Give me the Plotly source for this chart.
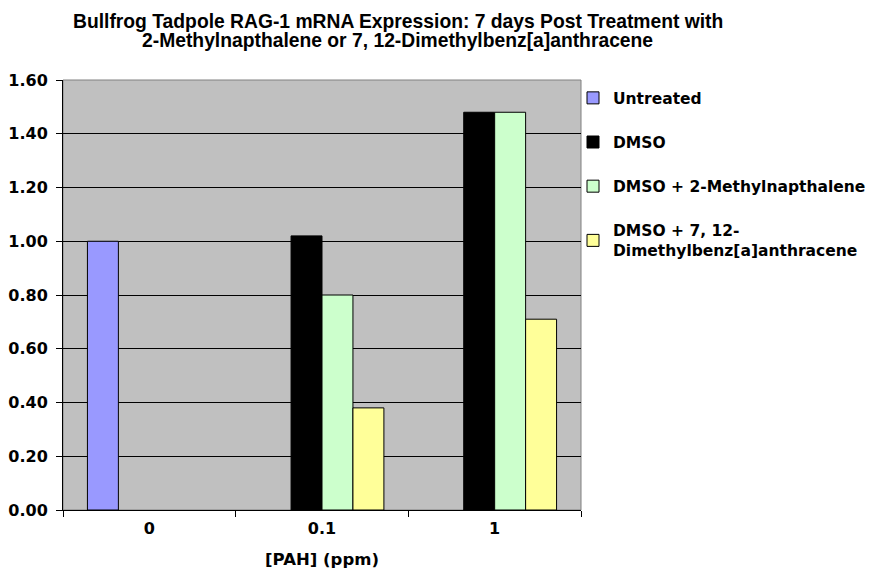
import plotly.graph_objects as go

categories = ["0", "0.1", "1"]
series_names = ["Untreated", "DMSO", "DMSO + 2-Methylnapthalene", "DMSO + 7, 12-<br>Dimethylbenz[a]anthracene"]
untreated = [1.00, None, None]
dmso = [None, 1.02, 1.48]
methylnap = [None, 0.80, 1.48]
dmba = [None, 0.38, 0.71]
colors = ["#9999FF", "#000000", "#CCFFCC", "#FFFF99"]
y_ticks = [0, 0.2, 0.4, 0.6, 0.8, 1.0, 1.2, 1.4, 1.6]
y_ticklabels = ["0.00", "0.20", "0.40", "0.60", "0.80", "1.00", "1.20", "1.40", "1.60"]
title_lines = ["Bullfrog Tadpole RAG-1 mRNA Expression: 7 days Post Treatment with",
               "2-Methylnapthalene or 7, 12-Dimethylbenz[a]anthracene"]

W, H = 882, 569
ML, MR, MT, MB = 55, 309, 72, 67
PW, PH = W - ML - MR, H - MT - MB

fig = go.Figure()
for i, (name, vals) in enumerate(zip(series_names, [untreated, dmso, methylnap, dmba])):
    fig.add_trace(go.Bar(
        x=categories, y=vals, name=name,
        marker=dict(color=colors[i], line=dict(color="#000000", width=1)),
        legendgroup=f"g{i}",
    ))

title_x = (389.5 - ML) / PW
for line, yc in zip(title_lines, [13, 32]):
    fig.add_annotation(
        text="<b>" + line + "</b>", showarrow=False,
        xref="paper", yref="paper",
        x=title_x, y=1 + (MT - yc) / PH, xanchor="center", yanchor="middle",
        font=dict(family="Liberation Sans", size=19.3, color="black"),
    )

fig.update_layout(
    width=W, height=H,
    margin=dict(l=ML, r=MR, t=MT, b=MB, autoexpand=False),
    paper_bgcolor="white",
    plot_bgcolor="#C0C0C0",
    barmode="group",
    bargap=0.283,
    bargroupgap=0,
    font=dict(family="DejaVu Sans", size=16, color="black"),
    xaxis=dict(
        type="category",
        tickfont=dict(family="DejaVu Sans", size=16, weight="bold"),
        showline=True, linecolor="black", linewidth=1,
        ticks="outside", ticklen=6, tickcolor="black",
        tickson="boundaries",
        ticklabelstandoff=4,
        showgrid=False,
        automargin=False,
        title=dict(text="<b>[PAH] (ppm)</b>", font=dict(family="DejaVu Sans", size=16.5), standoff=16),
    ),
    yaxis=dict(
        range=[0, 1.6],
        tickvals=y_ticks, ticktext=y_ticklabels,
        tickfont=dict(family="DejaVu Sans", size=16, weight="bold"),
        showline=True, linecolor="black", linewidth=1,
        ticks="outside", ticklen=6, tickcolor="black",
        ticklabelstandoff=5,
        showgrid=True, gridcolor="black", gridwidth=1,
        zeroline=False,
        automargin=False,
    ),
    legend=dict(
        x=(565 - ML) / PW, xanchor="left", y=0.997, yanchor="top",
        font=dict(family="DejaVu Sans", size=15.5, weight="bold"),
        tracegroupgap=21,
        itemwidth=30,
        bgcolor="rgba(0,0,0,0)",
    ),
    shapes=[dict(type="rect", xref="paper", yref="paper", x0=0, x1=1, y0=0, y1=1,
                 line=dict(color="#808080", width=1), layer="below")],
)

fig.write_html("out.html")
